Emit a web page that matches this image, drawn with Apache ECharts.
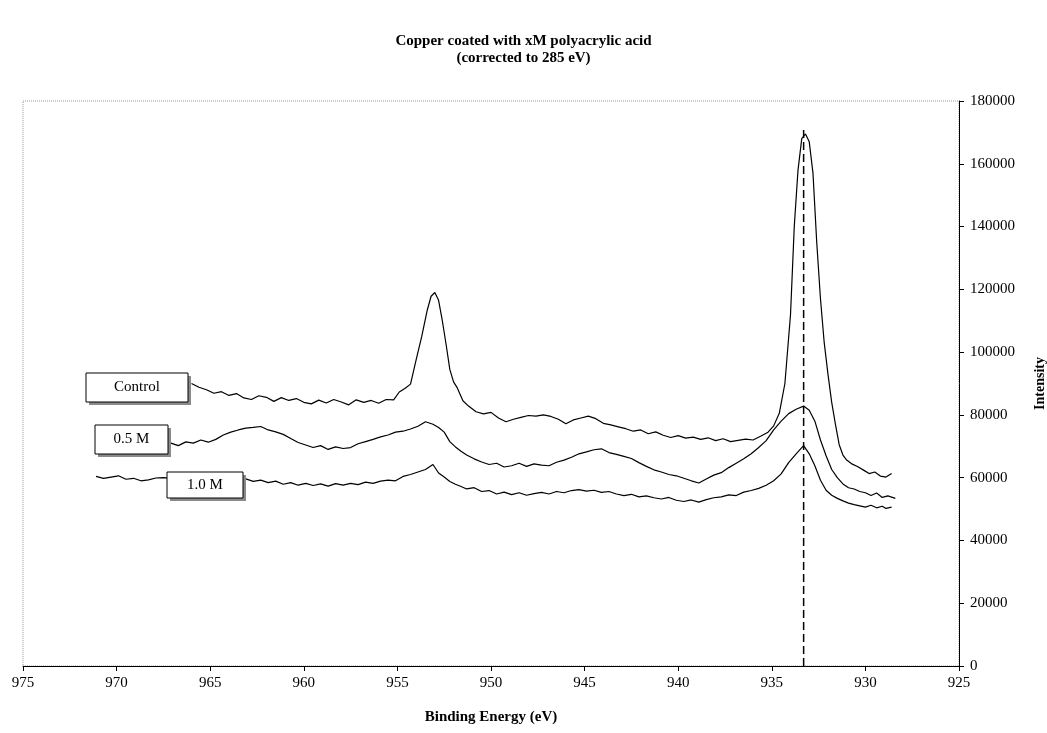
<!DOCTYPE html>
<html>
<head>
<meta charset="utf-8">
<script src="https://cdn.jsdelivr.net/npm/echarts@6/dist/echarts.min.js"></script>
<style>
  html, body { margin: 0; padding: 0; background: #fff; }
  #chart { width: 1047px; height: 733px; }
</style>
</head>
<body>
<div id="chart"></div>
<script>
  // binding energy (eV) and intensity for each curve
  var controlE = [966.0, 965.6, 965.2, 964.8, 964.4, 964.0, 963.6, 963.2, 962.8, 962.4, 962.0, 961.6, 961.2, 960.8, 960.4, 960.0,
    959.6, 959.2, 958.8, 958.4, 958.0, 957.6, 957.2, 956.8, 956.4, 956.0, 955.6, 955.2, 954.9, 954.6, 954.3, 954.0, 953.7, 953.4,
    953.2, 953.0, 952.8, 952.6, 952.4, 952.2, 952.0, 951.8, 951.5, 951.2, 950.8, 950.4, 950.0, 949.6, 949.2, 948.8, 948.4, 948.0,
    947.6, 947.2, 946.8, 946.4, 946.0, 945.6, 945.2, 944.8, 944.4, 944.0, 943.6, 943.2, 942.8, 942.4, 942.0, 941.6, 941.2, 940.8,
    940.4, 940.0, 939.6, 939.2, 938.8, 938.4, 938.0, 937.6, 937.2, 936.8, 936.4, 936.0, 935.6, 935.2, 934.9, 934.6, 934.3, 934.0,
    933.8, 933.6, 933.4, 933.2, 933.0, 932.8, 932.6, 932.4, 932.2, 932.0, 931.8, 931.6, 931.4, 931.2, 931.0, 930.7, 930.4, 930.1,
    929.8, 929.5, 929.2, 928.9, 928.6]
  var controlI = [90000, 88800, 88000, 86900, 87400, 86200, 86800, 85400, 84900, 86100, 85600, 84300, 85500, 84600, 85200, 84000,
    83500, 84700, 83800, 84900, 84100, 83200, 84800, 84000, 84600, 83700, 84900, 84800, 87300, 88400, 89800, 97500, 105000, 113500,
    117800, 119000, 116500, 110000, 102500, 94500, 90500, 88600, 84500, 82800, 81000, 80300, 80800, 79000, 77800, 78600, 79200, 79800,
    79600, 80000, 79500, 78600, 77200, 78400, 79000, 79600, 78800, 77300, 76800, 76200, 75600, 74800, 75200, 74000, 74600, 73500,
    72800, 73400, 72600, 72900, 72200, 72700, 71800, 72400, 71500, 71900, 72300, 72000, 73200, 74500, 76500, 80500, 90000, 112000,
    140000, 158000, 168000, 169500, 167000, 157000, 135000, 117000, 103000, 93000, 84000, 77000, 70500, 67200, 65600, 64300, 63500, 62400,
    61300, 61800, 60500, 60200, 61300]

  var halfE = [967.1, 966.7, 966.3, 965.9, 965.5, 965.1, 964.7, 964.3, 963.9, 963.5, 963.1, 962.7, 962.3, 961.9, 961.5, 961.1,
    960.7, 960.3, 959.9, 959.5, 959.1, 958.7, 958.3, 957.9, 957.5, 957.1, 956.7, 956.3, 955.9, 955.5, 955.1, 954.7, 954.3, 953.9,
    953.5, 953.1, 952.8, 952.5, 952.2, 951.9, 951.6, 951.3, 950.9, 950.5, 950.1, 949.7, 949.3, 948.9, 948.5, 948.1, 947.7, 947.3,
    946.9, 946.5, 946.1, 945.7, 945.3, 944.9, 944.5, 944.1, 943.7, 943.3, 942.9, 942.5, 942.1, 941.7, 941.3, 940.9, 940.5, 940.1,
    939.7, 939.3, 938.9, 938.5, 938.1, 937.7, 937.3, 936.9, 936.5, 936.1, 935.7, 935.3, 934.9, 934.5, 934.1, 933.7, 933.3, 933.0,
    932.7, 932.4, 932.1, 931.8, 931.5, 931.2, 930.9, 930.6, 930.3, 930.0, 929.7, 929.4, 929.1, 928.8, 928.4]
  var halfI = [71000, 70200, 71400, 71000, 72000, 71300, 72200, 73600, 74500, 75200, 75800, 76000, 76300, 75200, 74600, 73800,
    72500, 71200, 70400, 69600, 70200, 69000, 69800, 69300, 69600, 70800, 71500, 72200, 73000, 73600, 74500, 74800, 75500, 76400,
    77800, 77000, 76000, 74500, 71500, 69800, 68400, 67200, 66000, 65000, 64200, 64600, 63400, 63800, 64600, 63600, 64400, 64000,
    63800, 64900, 65600, 66500, 67600, 68200, 68900, 69200, 68000, 67400, 66800, 66100, 64800, 63600, 62500, 61800, 61000, 60600,
    59800, 59000, 58300, 59600, 60800, 61600, 63200, 64600, 66000, 67600, 69600, 71800, 75200, 78000, 80400, 81800, 82800, 81500,
    78000, 72000, 67000, 62600, 60000, 58000, 56800, 56400, 55600, 55200, 54300, 55100, 53700, 54200, 53400]

  var oneE = [971.1, 970.7, 970.3, 969.9, 969.5, 969.1, 968.7, 968.3, 967.9, 967.5, 967.1, 966.7, 966.3, 965.9, 965.5, 965.1,
    964.7, 964.3, 963.9, 963.5, 963.1, 962.7, 962.3, 961.9, 961.5, 961.1, 960.7, 960.3, 959.9, 959.5, 959.1, 958.7, 958.3, 957.9,
    957.5, 957.1, 956.7, 956.3, 955.9, 955.5, 955.1, 954.7, 954.3, 953.9, 953.5, 953.1, 952.8, 952.5, 952.2, 951.9, 951.6, 951.3,
    950.9, 950.5, 950.1, 949.7, 949.3, 948.9, 948.5, 948.1, 947.7, 947.3, 946.9, 946.5, 946.1, 945.7, 945.3, 944.9, 944.5, 944.1,
    943.7, 943.3, 942.9, 942.5, 942.1, 941.7, 941.3, 940.9, 940.5, 940.1, 939.7, 939.3, 938.9, 938.5, 938.1, 937.7, 937.3, 936.9,
    936.5, 936.1, 935.7, 935.3, 934.9, 934.5, 934.1, 933.7, 933.3, 933.0, 932.7, 932.4, 932.1, 931.8, 931.5, 931.2, 930.9, 930.6,
    930.3, 930.0, 929.7, 929.4, 929.1, 928.9, 928.6]
  var oneI = [60400, 59800, 60200, 60600, 59500, 59800, 59000, 59300, 59900, 60000, 59800, 59600, 59900, 59500, 59700, 59400,
    59800, 59600, 59700, 59900, 59600, 58800, 59200, 58400, 58900, 57900, 58400, 57600, 58200, 57500, 58000, 57300, 58100, 57600,
    58200, 57800, 58600, 58200, 58900, 59200, 59000, 60400, 61000, 61800, 62600, 64200, 61500, 60200, 58800, 57900, 57200, 56400,
    56800, 55600, 55900, 54800, 55400, 54600, 55200, 54400, 54900, 55300, 54800, 55600, 55200, 55900, 56200, 55700, 56000, 55300,
    55600, 54800, 54300, 54700, 53900, 54200, 53600, 53200, 53700, 52800, 52400, 52900, 52200, 53000, 53600, 53900, 54500, 54300,
    55400, 55900, 56600, 57600, 59000, 61200, 64800, 67600, 70200, 67600, 63800, 59200, 56000, 54400, 53400, 52600, 51900, 51400,
    51000, 50600, 51200, 50400, 50900, 50200, 50600]

  // Cu 2p3/2 reference line
  var refLineE = [933.3, 933.3]
  var refLineI = [0, 172000]

  var xTicks = [975, 970, 965, 960, 955, 950, 945, 940, 935, 930, 925]
  var yTicks = [0, 20000, 40000, 60000, 80000, 100000, 120000, 140000, 160000, 180000]

  // label boxes: text, anchor (eV, intensity), box size
  var boxLabels = [
    { text: 'Control', e: 968.9, i: 88600, w: 102, h: 29 },
    { text: '0.5 M', e: 969.2, i: 72300, w: 73, h: 29 },
    { text: '1.0 M', e: 965.3, i: 57800, w: 76, h: 26 }
  ]

  function pairs (xs, ys) {
    return xs.map(function (x, k) { return [x, ys[k]] })
  }

  var serif = '"Liberation Serif", "Times New Roman", serif'
  var myChart = echarts.init(document.getElementById('chart'))

  myChart.setOption({
    animation: false,
    backgroundColor: '#fff',
    title: {
      text: 'Copper coated with xM polyacrylic acid\n(corrected to 285 eV)',
      left: 'center',
      top: 28,
      textStyle: {
        fontFamily: serif,
        fontSize: 15,
        fontWeight: 'bold',
        color: '#000',
        lineHeight: 17
      }
    },
    grid: {
      left: 23,
      right: 88,
      top: 101,
      bottom: 67,
      outerBoundsMode: 'none',
      containLabel: false,
      show: true,
      borderColor: '#999',
      borderWidth: 1,
      borderType: 'dotted'
    },
    xAxis: {
      type: 'value',
      inverse: true,
      min: xTicks[xTicks.length - 1],
      max: xTicks[0],
      interval: 5,
      name: 'Binding Energy (eV)',
      nameLocation: 'middle',
      nameGap: 44,
      nameTextStyle: { fontFamily: serif, fontSize: 15, fontWeight: 'bold', color: '#000' },
      axisLine: { lineStyle: { color: '#000', width: 1 } },
      axisTick: { length: 5, lineStyle: { color: '#000' } },
      axisLabel: { fontFamily: serif, fontSize: 15, color: '#000', margin: 10 },
      splitLine: { show: false }
    },
    yAxis: {
      type: 'value',
      position: 'right',
      min: yTicks[0],
      max: yTicks[yTicks.length - 1],
      interval: 20000,
      name: 'Intensity',
      nameLocation: 'middle',
      nameRotate: 90,
      nameGap: 74,
      nameTextStyle: { fontFamily: serif, fontSize: 14, fontWeight: 'bold', color: '#000' },
      axisLine: { show: true, lineStyle: { color: '#000', width: 1 } },
      axisTick: { show: true, length: 5, lineStyle: { color: '#000' } },
      axisLabel: {
        fontFamily: serif,
        fontSize: 15,
        color: '#000',
        margin: 11,
        formatter: function (v) { return String(v) }
      },
      splitLine: { show: false }
    },
    series: [
      {
        name: 'Control',
        type: 'line',
        data: pairs(controlE, controlI),
        showSymbol: false,
        lineStyle: { color: '#000', width: 1.2 }
      },
      {
        name: '0.5 M',
        type: 'line',
        data: pairs(halfE, halfI),
        showSymbol: false,
        lineStyle: { color: '#000', width: 1.2 }
      },
      {
        name: '1.0 M',
        type: 'line',
        data: pairs(oneE, oneI),
        showSymbol: false,
        lineStyle: { color: '#000', width: 1.2 }
      },
      {
        name: 'reference',
        type: 'line',
        data: pairs(refLineE, refLineI),
        showSymbol: false,
        lineStyle: { color: '#000', width: 1.5, type: [8, 4] }
      }
    ]
  })

  // text boxes with the grey drop shadow, placed at data coordinates
  var boxes = boxLabels.map(function (b) {
    var p = myChart.convertToPixel({ gridIndex: 0 }, [b.e, b.i])
    return {
      type: 'group',
      x: Math.round(p[0] - b.w / 2),
      y: Math.round(p[1] - b.h / 2),
      z: 100,
      children: [
        { type: 'rect', z: 100, shape: { x: 3, y: 3, width: b.w, height: b.h }, style: { fill: '#8a8a8a' } },
        { type: 'rect', z: 101, shape: { x: 0, y: 0, width: b.w, height: b.h }, style: { fill: '#fff', stroke: '#000', lineWidth: 1 } },
        {
          type: 'text',
          z: 102,
          x: b.w / 2,
          y: b.h / 2,
          style: { text: b.text, fill: '#000', font: '15px ' + serif, align: 'center', verticalAlign: 'middle' }
        }
      ]
    }
  })
  myChart.setOption({ graphic: boxes })
</script>
</body>
</html>
